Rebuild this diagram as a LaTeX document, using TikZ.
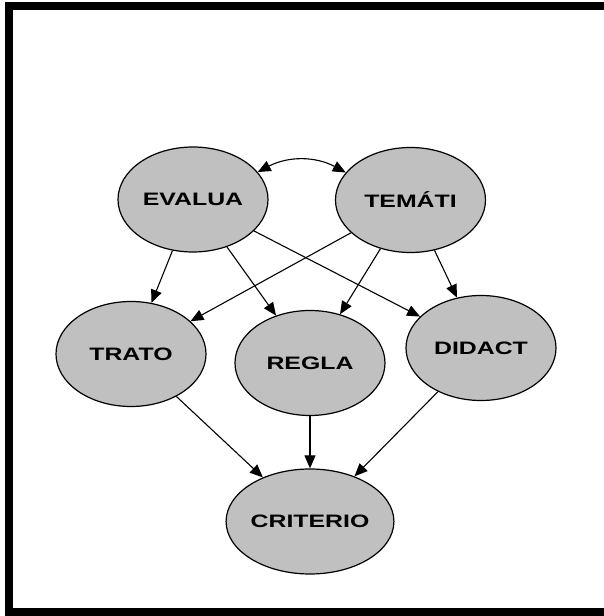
\documentclass[tikz,border=0pt]{standalone}
\usepackage{fontspec}
\usepackage{graphicx}
\setmainfont{Liberation Sans}
\usetikzlibrary{shapes.geometric,arrows.meta}
\definecolor{nodegray}{RGB}{192,192,192}
\tikzset{
  concept/.style={ellipse, draw=black, line width=1.2pt, fill=nodegray,
    minimum width=150pt, minimum height=105pt, inner sep=0pt,
    font=\fontsize{18}{20}\selectfont\bfseries},
  link/.style={line width=1.1pt, -{Triangle[length=13pt,width=11pt]}},
  biglink/.style={line width=1.1pt, {Triangle[length=13pt,width=11pt]}-{Triangle[length=13pt,width=11pt]}},
  framebar/.style={fill=black}
}
\newcommand{\wtext}[1]{\scalebox{1.38}[1]{#1}}
\begin{document}
\begin{tikzpicture}[x=1pt,y=1pt]
\useasboundingbox (0,0) rectangle (604,616);
% frame
\fill[framebar] (5,0) rectangle (604,8);
\fill[framebar] (5,606) rectangle (604,614);
\fill[framebar] (5,0) rectangle (13,614);
% nodes
\node[concept] (ev) at (193,416.5) {\wtext{EVALUA}};
\node[concept] (te) at (410.5,416) {\wtext{TEMÁTI}};
\node[concept] (tr) at (131,262) {\wtext{TRATO}};
\node[concept] (re) at (310,253) {\wtext{REGLA}};
\node[concept] (di) at (481,268) {\wtext{DIDACT}};
\node[concept] (cr) at (310,94.5) {\wtext{CRITERIO}};
% edges
\draw[biglink] (ev.23) to[bend left=28] (te.157);
\draw[link] (ev) -- (tr);
\draw[link] (ev) -- (re);
\draw[link] (ev) -- (di);
\draw[link] (te) -- (tr);
\draw[link] (te) -- (re);
\draw[link] (te) -- (di);
\draw[link] (tr) -- (cr);
\draw[link] (re) -- (cr);
\draw[link] (di) -- (cr);
\end{tikzpicture}
\end{document}
